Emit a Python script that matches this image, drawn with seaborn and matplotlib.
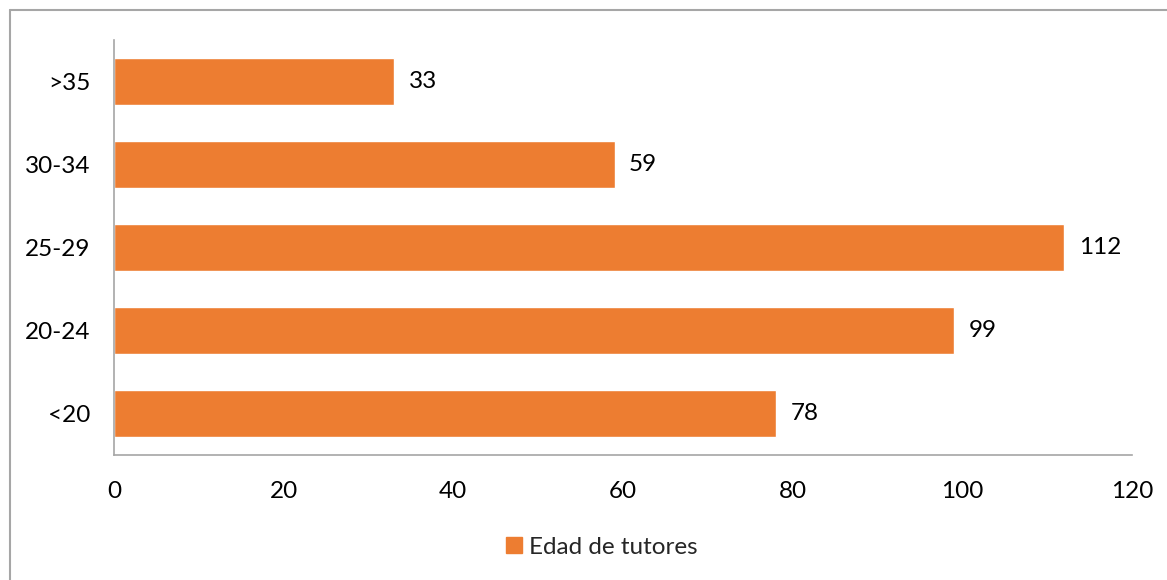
import matplotlib
matplotlib.use("Agg")
import matplotlib.pyplot as plt
import seaborn as sns
import pandas as pd
from matplotlib.lines import Line2D

categories = [">35", "30-34", "25-29", "20-24", "<20"]
values = [33, 59, 112, 99, 78]
series_name = "Edad de tutores"
xticks = [0, 20, 40, 60, 80, 100, 120]

sns.set_theme(style="white")
plt.rcParams['font.family'] = ['Lato', 'DejaVu Sans']

df = pd.DataFrame({"cat": categories, "val": values})
color = "#ED7D31"
grey = "#A6A6A6"
fs = 17.5

fig = plt.figure(figsize=(11.67, 5.80), dpi=100)
ax = fig.add_axes([114/1167, 1-455/580, (1132-114)/1167, (455-40)/580])
sns.barplot(data=df, x="val", y="cat", orient="h", color=color, width=0.57,
            saturation=1, ax=ax)
ax.set_xlim(0, 120)
ax.set_ylim(4.5, -0.5)
ax.set_xticks(xticks)
ax.set_xticklabels([str(t) for t in xticks])
ax.set_xlabel("")
ax.set_ylabel("")
ax.tick_params(axis="x", length=0, pad=19, labelsize=fs, colors="black")
ax.tick_params(axis="y", length=0, pad=17, labelsize=fs, colors="black")
for s in ["top", "right"]:
    ax.spines[s].set_visible(False)
for s in ["left", "bottom"]:
    ax.spines[s].set_color(grey)
    ax.spines[s].set_linewidth(1.2)

for i, v in enumerate(values):
    ax.annotate(str(v), (v, i), xytext=(10.5, 0), textcoords="offset points",
                va="center", ha="left", fontsize=fs, color="black")

handle = Line2D([], [], marker="s", linestyle="none", markersize=12,
                markerfacecolor=color, markeredgecolor=color)
fig.legend([handle], [series_name], loc="center", bbox_to_anchor=(600/1167, 1-547/580),
           frameon=False, fontsize=fs, handletextpad=0.1, handlelength=1.0)

# outer border (left and top visible)
fig.add_artist(Line2D([10/1167, 10/1167], [0, 1-10/580], color=grey, lw=1.5,
                      transform=fig.transFigure))
fig.add_artist(Line2D([10/1167, 1], [1-10/580, 1-10/580], color=grey, lw=1.5,
                      transform=fig.transFigure))

fig.savefig("out.png", dpi=100)
